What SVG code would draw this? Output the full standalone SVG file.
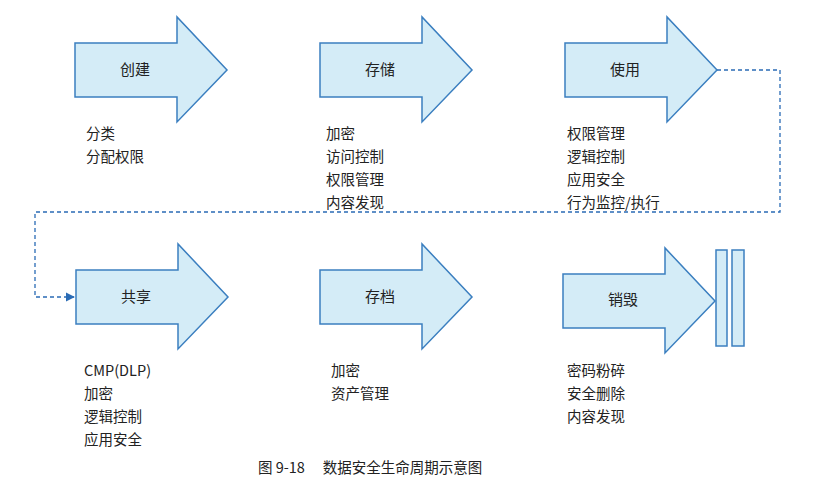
<svg xmlns="http://www.w3.org/2000/svg" width="830" height="495" viewBox="0 0 830 495">
<defs>
<style>
.ar{fill:#d4ecf7;stroke:#3b7fc0;stroke-width:1.5}
.t{font-family:"Noto Sans CJK SC","Liberation Sans",sans-serif;font-size:15px;fill:#222}
.l{font-family:"Noto Sans CJK SC","Liberation Sans",sans-serif;font-size:14.5px;fill:#222}
.c{stroke:#2a6bb5;stroke-width:1.3;fill:none;stroke-dasharray:4 3}
</style>
<path id="arr" class="ar" d="M0,0 H102 V-26 L152,27 L102,79 V54 H0 Z"/>
<marker id="m" viewBox="0 0 10 10" refX="9" refY="5" markerWidth="7" markerHeight="7" orient="auto"><path d="M0,0 L10,5 L0,10 Z" fill="#2a6bb5"/></marker>
</defs>
<rect width="830" height="495" fill="#fff"/>
<g id="connectors">
<path class="c" d="M717,70 H780 V212 H35 V297 H74" marker-end="url(#m)"/>
</g>
<g id="n1"><use href="#arr" x="75" y="43"/><text class="t" x="135" y="75" text-anchor="middle">创建</text>
<text class="l" x="86" y="139">分类</text><text class="l" x="86" y="162">分配权限</text></g>
<g id="n2"><use href="#arr" x="320" y="43"/><text class="t" x="380" y="75" text-anchor="middle">存储</text>
<text class="l" x="326" y="139">加密</text><text class="l" x="326" y="162">访问控制</text><text class="l" x="326" y="185">权限管理</text><text class="l" x="326" y="208">内容发现</text></g>
<g id="n3"><use href="#arr" x="565" y="43"/><text class="t" x="625" y="75" text-anchor="middle">使用</text>
<text class="l" x="567" y="139">权限管理</text><text class="l" x="567" y="162">逻辑控制</text><text class="l" x="567" y="185">应用安全</text><text class="l" x="567" y="208">行为监控/执行</text></g>
<g id="n4"><use href="#arr" x="76" y="270"/><text class="t" x="136" y="302" text-anchor="middle">共享</text>
<text class="l" x="84" y="376">CMP(DLP)</text><text class="l" x="84" y="399">加密</text><text class="l" x="84" y="422">逻辑控制</text><text class="l" x="84" y="445">应用安全</text></g>
<g id="n5"><use href="#arr" x="320" y="270"/><text class="t" x="380" y="302" text-anchor="middle">存档</text>
<text class="l" x="331" y="376">加密</text><text class="l" x="331" y="399">资产管理</text></g>
<g id="n6"><use href="#arr" x="563" y="274"/><text class="t" x="623" y="305" text-anchor="middle">销毁</text>
<text class="l" x="567" y="376">密码粉碎</text><text class="l" x="567" y="399">安全删除</text><text class="l" x="567" y="422">内容发现</text>
<rect class="ar" x="716" y="250" width="11" height="96"/><rect class="ar" x="732" y="250" width="12" height="96"/></g>
<text class="l" x="258" y="473">图 9-18　 数据安全生命周期示意图</text>
</svg>
